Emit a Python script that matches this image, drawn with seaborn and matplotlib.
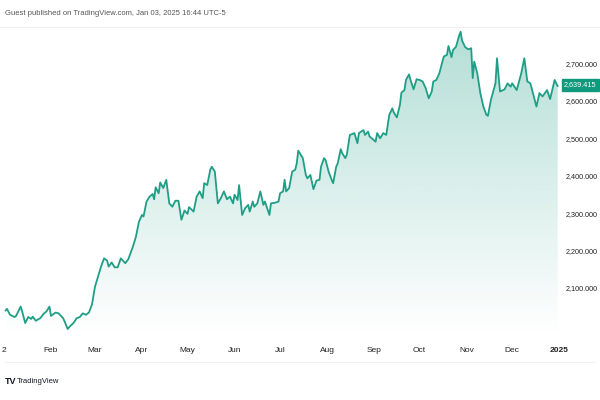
import numpy as np
import pandas as pd
import matplotlib
matplotlib.use("Agg")
import matplotlib.pyplot as plt
import matplotlib.dates as mdates
from matplotlib.colors import to_rgb
import seaborn as sns

# Gold spot price (days counted from 2024-01-01)
days = [1, 2, 4, 7, 8, 11, 12, 14, 16, 18, 19, 21, 23, 24, 26, 28, 30, 31, 34, 36,
        39, 40, 42, 43, 46, 48, 50, 52, 54, 56, 58, 60, 62, 64, 66, 68, 69, 71, 73, 75,
        77, 80, 82, 85, 87, 89, 91, 92, 94, 96, 98, 99, 100, 102, 103, 105, 107, 109, 111, 113,
        115, 117, 119, 121, 122, 125, 127, 129, 131, 132, 134, 136, 137, 139, 141, 143, 145, 147, 149, 151,
        152, 154, 155, 157, 159, 161, 162, 164, 165, 167, 169, 171, 172, 175, 176, 179, 181, 182, 184, 185,
        186, 188, 190, 192, 193, 194, 197, 199, 200, 202, 204, 206, 208, 209, 211, 212, 214, 216, 217, 219,
        220, 222, 223, 225, 226, 228, 230, 231, 233, 234, 237, 238, 240, 241, 243, 245, 246, 248, 250, 252,
        254, 256, 257, 259, 261, 262, 264, 265, 267, 268, 270, 272, 274, 276, 278, 280, 282, 283, 285, 287,
        289, 290, 292, 293, 295, 296, 298, 300, 301, 302, 304, 306, 308, 309, 310, 312, 314, 316, 318, 319,
        321, 324, 325, 327, 330, 332, 334, 335, 338, 341, 343, 345, 347, 351, 353, 355, 358, 360, 363, 365]
prices = [2039, 2044, 2028, 2022, 2025, 2050, 2037, 2006, 2022, 2017, 2023, 2012, 2017, 2019, 2030, 2037, 2050, 2025, 2034, 2032,
          2019, 2010, 1990, 1995, 2007, 2019, 2022, 2032, 2028, 2034, 2055, 2103, 2130, 2157, 2179, 2173, 2157, 2168, 2155, 2155,
          2179, 2166, 2177, 2210, 2237, 2277, 2295, 2291, 2331, 2344, 2351, 2337, 2369, 2353, 2382, 2367, 2389, 2326, 2317, 2333,
          2333, 2282, 2307, 2298, 2316, 2304, 2344, 2358, 2340, 2380, 2375, 2416, 2424, 2411, 2326, 2340, 2358, 2337, 2344, 2326,
          2349, 2335, 2375, 2295, 2313, 2322, 2304, 2331, 2317, 2326, 2358, 2322, 2331, 2295, 2326, 2328, 2331, 2353, 2358, 2389,
          2358, 2367, 2411, 2416, 2433, 2467, 2447, 2402, 2393, 2402, 2364, 2387, 2389, 2424, 2447, 2442, 2411, 2389, 2380, 2424,
          2433, 2471, 2460, 2447, 2456, 2509, 2512, 2514, 2487, 2514, 2522, 2509, 2518, 2505, 2498, 2491, 2514, 2500, 2514, 2509,
          2563, 2580, 2569, 2556, 2589, 2622, 2629, 2656, 2671, 2656, 2631, 2658, 2656, 2652, 2634, 2607, 2625, 2652, 2656, 2674,
          2705, 2719, 2723, 2747, 2717, 2736, 2745, 2774, 2785, 2761, 2744, 2738, 2741, 2661, 2705, 2674, 2621, 2585, 2563, 2560,
          2603, 2647, 2714, 2625, 2631, 2647, 2638, 2647, 2629, 2674, 2714, 2652, 2647, 2585, 2621, 2612, 2629, 2605, 2656, 2639.415]

y_ticks = [2100, 2200, 2300, 2400, 2500, 2600, 2700]
month_labels = ["2", "Feb", "Mar", "Apr", "May", "Jun", "Jul", "Aug", "Sep", "Oct", "Nov", "Dec", "2025"]
last_price = 2639.415

line_color = "#1f9e86"
label_color = "#0f9a7d"
text_color = "#222222"

sns.set_style("white")
plt.rcParams["font.family"] = ["Liberation Sans", "DejaVu Sans"]

df = pd.DataFrame({
    "date": pd.Timestamp("2024-01-01") + pd.to_timedelta(days, unit="D"),
    "price": prices,
})

fig = plt.figure(figsize=(6, 4), dpi=100)
ax = fig.add_axes([0.0, 0.1625, 0.932, 0.7675])

x_lo = pd.Timestamp("2024-01-01") - pd.Timedelta(days=2.6)
x_hi = pd.Timestamp("2024-01-01") + pd.Timedelta(days=365.5)
y_lo, y_hi = 1974, 2795

# gradient area under the line
fill = ax.fill_between(df["date"], df["price"], y_lo, color="none", lw=0)
rgb = to_rgb(line_color)
grad = np.zeros((256, 1, 4))
grad[:, 0, :3] = rgb
grad[:, 0, 3] = np.linspace(0.34, 0.0, 256)
im = ax.imshow(grad, aspect="auto", origin="upper",
               extent=[mdates.date2num(x_lo), mdates.date2num(x_hi), y_lo, y_hi],
               zorder=1)
im.set_clip_path(fill.get_paths()[0], transform=ax.transData)

sns.lineplot(data=df, x="date", y="price", ax=ax, color=line_color, lw=1.3, zorder=3)

ax.set_xlim(x_lo, x_hi)
ax.set_ylim(y_lo, y_hi)
ax.set_xlabel("")
ax.set_ylabel("")
for s in ax.spines.values():
    s.set_visible(False)

ax.yaxis.tick_right()
ax.set_yticks(y_ticks)
ax.set_yticklabels([f"{v:,.3f}" for v in y_ticks], fontsize=5.2, color=text_color)
ax.tick_params(axis="y", length=0, pad=5)

month_ticks = pd.date_range("2024-01-01", "2025-01-01", freq="MS")
ax.set_xticks(month_ticks)
ax.set_xticklabels(month_labels, fontsize=6, color=text_color)
ax.get_xticklabels()[-1].set_fontweight("bold")
ax.tick_params(axis="x", length=0, pad=9)

# last price marker on the price scale
ax.annotate(f"{last_price:,.3f}", xy=(1.0, last_price), xycoords=("axes fraction", "data"),
            xytext=(3.5, 1), textcoords="offset points", va="center", ha="left",
            fontsize=5.2, color="white", annotation_clip=False, zorder=10,
            bbox=dict(boxstyle="square,pad=0.35", fc=label_color, ec=label_color))

# header / footer like the TradingView snapshot
fig.text(0.008, 0.967, "Guest published on TradingView.com, Jan 03, 2025 16:44 UTC-5",
         fontsize=5.5, color="#555555", va="center")
fig.add_artist(plt.Line2D([0.0, 1.0], [0.932, 0.932], color="#eeeeee", lw=0.8))
fig.add_artist(plt.Line2D([0.008, 0.992], [0.095, 0.095], color="#f0f0f0", lw=0.8))
fig.text(0.008, 0.047, "TV", fontsize=6.5, fontweight="bold", color="#131722", va="center")
fig.text(0.028, 0.047, "TradingView", fontsize=5.5, color="#131722", va="center")

fig.savefig("out.png", dpi=100, facecolor="white")
